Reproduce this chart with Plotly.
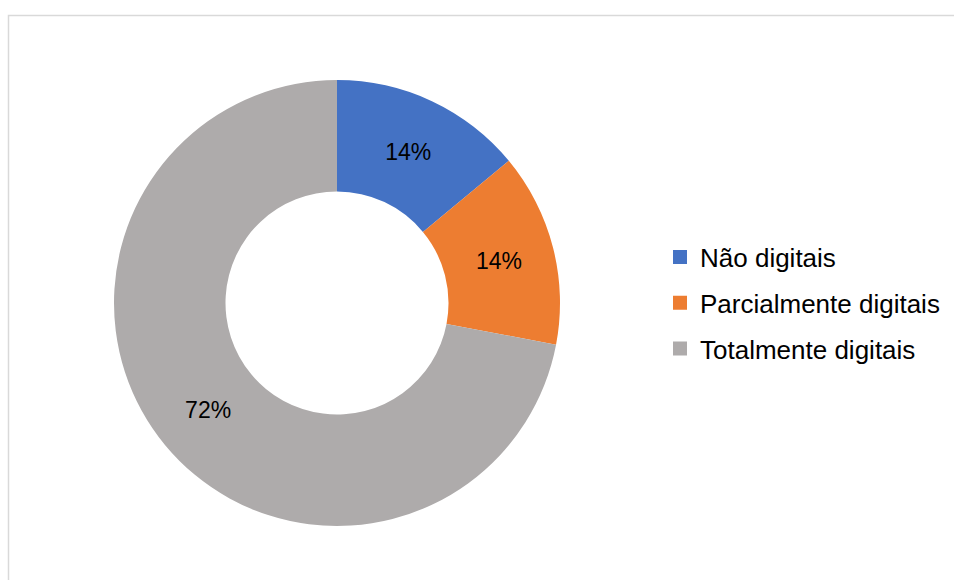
import plotly.graph_objects as go

# Share of processes by degree of digitalisation
categories = ["Não digitais", "Parcialmente digitais", "Totalmente digitais"]
shares = [14, 14, 72]
colors = ["#4472C4", "#ED7D31", "#AEABAB"]

FONT = "Arial, Liberation Sans, sans-serif"
W, H = 954, 580

fig = go.Figure()

fig.add_trace(go.Pie(
    labels=categories,
    values=shares,
    hole=0.5,
    sort=False,
    direction="clockwise",
    rotation=0,
    marker=dict(colors=colors, line=dict(width=0)),
    textinfo="percent",
    textposition="inside",
    insidetextorientation="horizontal",
    textfont=dict(family=FONT, size=23, color="#000000"),
    showlegend=False,
    domain=dict(x=[(337 - 223) / W, (337 + 223) / W],
                y=[(277 - 223) / H, (277 + 223) / H]),
))

# Legend entries, one group each so the gap between rows can be set
for i, (name, col) in enumerate(zip(categories, colors)):
    fig.add_trace(go.Scatter(
        x=[None], y=[None], mode="markers", name=name,
        marker=dict(symbol="square", size=14, color=col),
        legendgroup=f"g{i}", showlegend=True,
    ))

fig.update_layout(
    width=W, height=H,
    margin=dict(l=0, r=0, t=0, b=0),
    paper_bgcolor="white",
    plot_bgcolor="white",
    xaxis=dict(visible=False),
    yaxis=dict(visible=False),
    legend=dict(
        x=660 / W, xanchor="left",
        y=(H - 303) / H, yanchor="middle",
        font=dict(family=FONT, size=26, color="#000000"),
        tracegroupgap=9,
        bgcolor="rgba(0,0,0,0)",
        itemclick=False,
    ),
    shapes=[dict(
        type="rect", xref="paper", yref="paper",
        x0=8.5 / W, x1=1.02, y0=-0.02, y1=(H - 15.5) / H,
        line=dict(color="#D9D9D9", width=1.5),
        fillcolor="rgba(0,0,0,0)", layer="below",
    )],
)

fig.write_html("out.html")
